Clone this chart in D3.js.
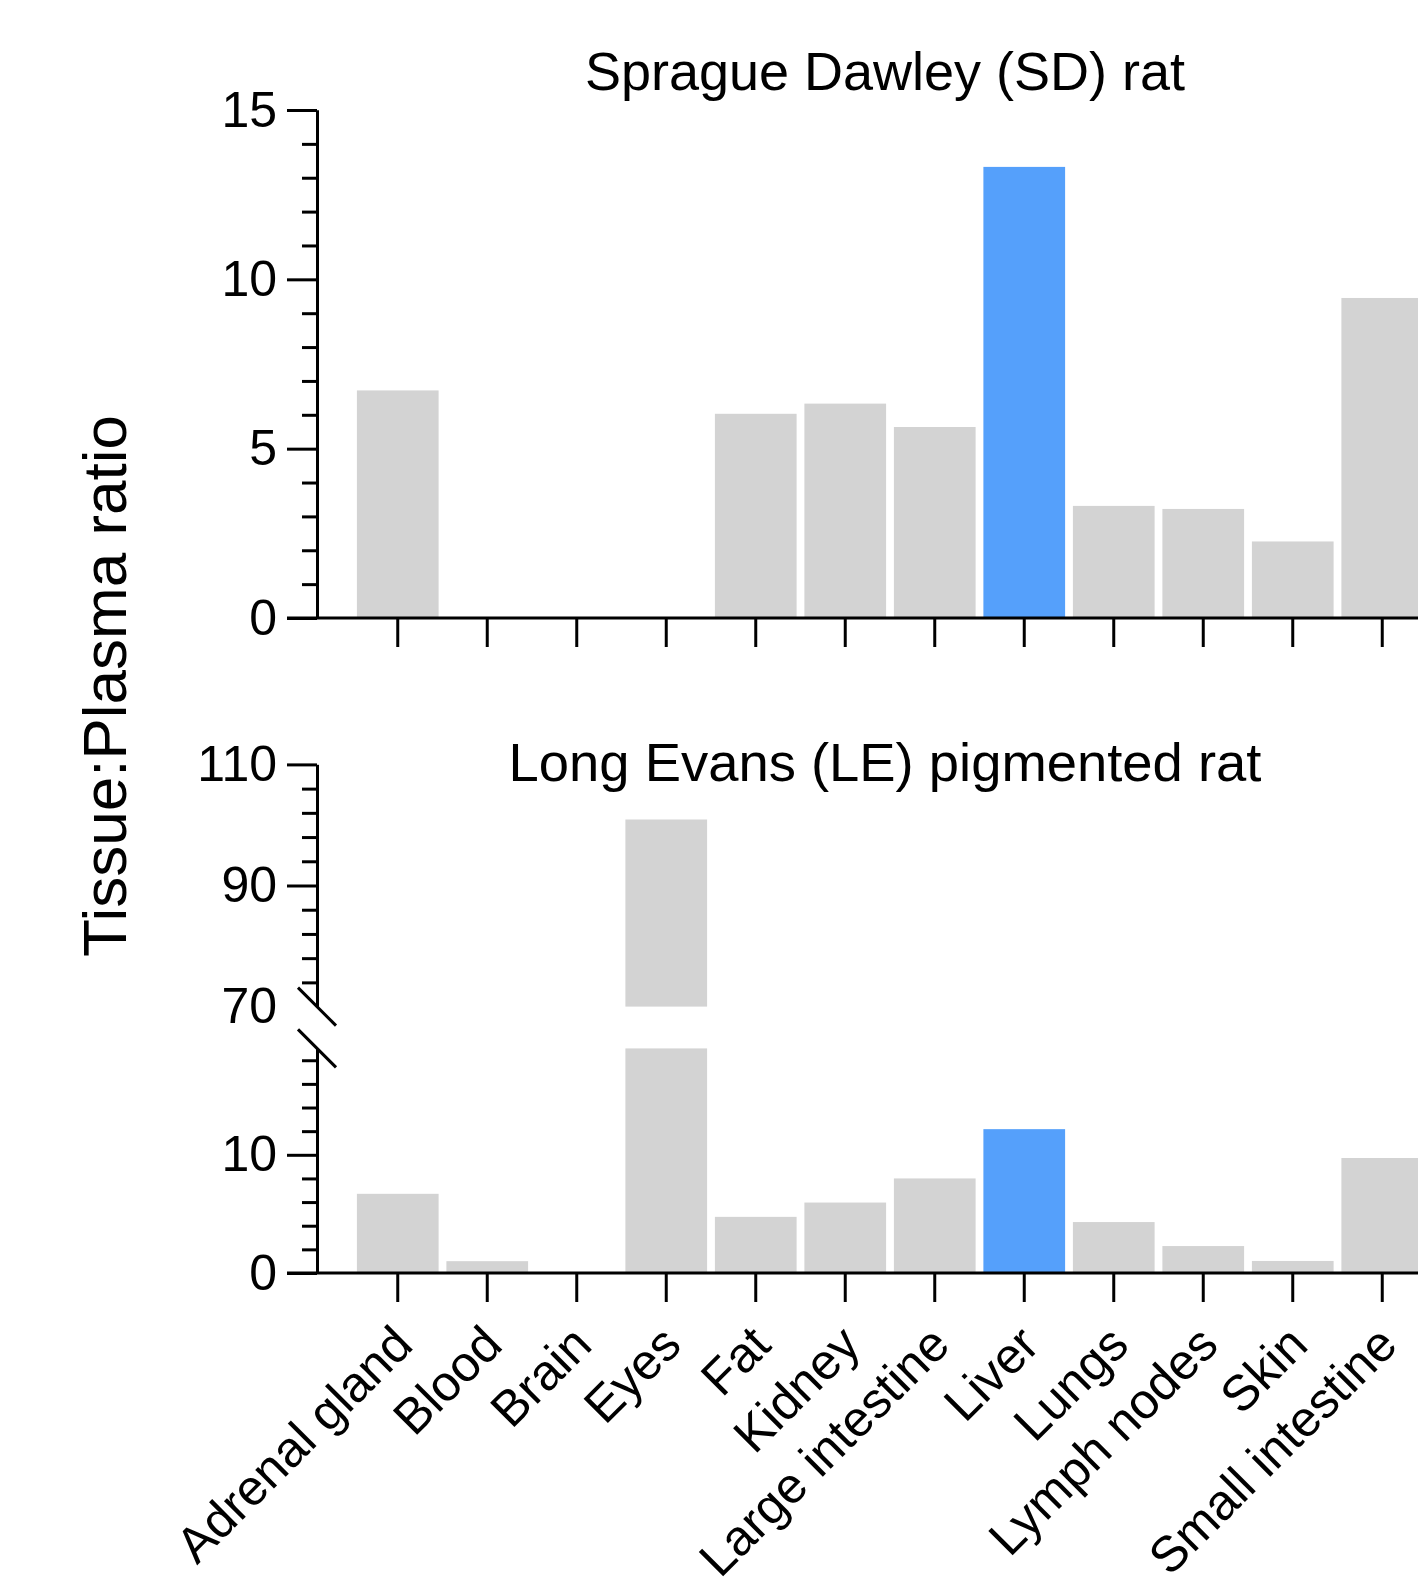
<!DOCTYPE html>
<html>
<head>
<meta charset="utf-8">
<script src="https://cdn.jsdelivr.net/npm/d3@7"></script>
<style>
  body { margin: 0; background: #fff; }
  text { font-family: "Liberation Sans", Arial, sans-serif; fill: #000; }
</style>
</head>
<body>
<div class="visholder"></div>
<script>
// data
const categories = ["Adrenal gland", "Blood", "Brain", "Eyes", "Fat", "Kidney",
  "Large intestine", "Liver", "Lungs", "Lymph nodes", "Skin", "Small intestine"];
const sdValues = [6.72, 0, 0, 0, 6.03, 6.33, 5.64, 13.32, 3.31, 3.22, 2.26, 9.45];
const leValues = [6.7, 1.0, 0, 100.9, 4.75, 5.96, 8.0, 12.17, 4.31, 2.28, 1.02, 9.73];
const highlight = "Liver";
const sdTicks = [0, 5, 10, 15];
const leLowTicks = [0, 10];
const leHighTicks = [70, 90, 110];
const sdTitle = "Sprague Dawley (SD) rat";
const leTitle = "Long Evans (LE) pigmented rat";
const yTitle = "Tissue:Plasma ratio";

// layout
const width = 1418, height = 1594,
  axisX = 317,
  bandStart = 353, step = 89.5,
  lineW = 3,
  grey = "#d3d3d3", blue = "#55a0fb";

let svg = d3.select(".visholder").append("svg")
  .attr("width", width).attr("height", height);

let x = d3.scaleBand().domain(categories)
  .range([bandStart, bandStart + step * categories.length])
  .paddingInner(0.087).paddingOuter(0.0435);

const colour = d => d === highlight ? blue : grey;

// y axis helper: major + minor ticks
function yAxis(scale, major, minorStep) {
  let g = svg.append("g").attr("transform", `translate(${axisX},0)`);
  let lo = scale.domain()[0], hi = scale.domain()[1];
  let minor = d3.range(lo, hi + 0.001, minorStep).filter(v => major.indexOf(v) < 0);
  g.append("g").call(d3.axisLeft(scale).tickValues(minor).tickSize(15).tickSizeOuter(0).tickFormat(""));
  g.append("g").attr("class", "major")
    .call(d3.axisLeft(scale).tickValues(major).tickSize(30).tickSizeOuter(0).tickPadding(10));
  g.selectAll("path, line").attr("stroke", "#000").attr("stroke-width", lineW);
  g.selectAll("text").style("font-size", "50px").attr("fill", "#000");
  return g;
}

// x axis helper: baseline + ticks
function xAxis(yBase, withLabels) {
  svg.append("line")
    .attr("x1", axisX - 30).attr("x2", x.range()[1])
    .attr("y1", yBase).attr("y2", yBase)
    .attr("stroke", "#000").attr("stroke-width", lineW);
  let g = svg.append("g").attr("transform", `translate(0,${yBase})`)
    .call(d3.axisBottom(x).tickSize(29).tickSizeOuter(0));
  g.select(".domain").remove();
  g.selectAll("line").attr("stroke", "#000").attr("stroke-width", lineW);
  if (withLabels) {
    g.selectAll("text")
      .style("font-size", "50px")
      .attr("fill", "#000")
      .attr("text-anchor", "end")
      .attr("dy", "0.35em")
      .attr("y", 0)
      .attr("transform", "translate(5,62) rotate(-45)");
  } else {
    g.selectAll("text").remove();
  }
}

// top panel
let yTop = d3.scaleLinear().domain([0, 15]).range([618, 110]);
svg.append("g").selectAll("rect").data(categories).enter().append("rect")
  .attr("x", d => x(d))
  .attr("width", x.bandwidth())
  .attr("y", (d, i) => yTop(sdValues[i]))
  .attr("height", (d, i) => yTop(0) - yTop(sdValues[i]))
  .attr("fill", colour);
yAxis(yTop, sdTicks, 1);
xAxis(yTop(0), false);
svg.append("text").text(sdTitle)
  .attr("x", 885).attr("y", 90)
  .attr("text-anchor", "middle")
  .style("font-size", "54px");

// bottom panel, broken axis
const lowMax = 19;
let yLow = d3.scaleLinear().domain([0, lowMax]).range([1273, 1273 - lowMax * 11.82]);
let yHigh = d3.scaleLinear().domain([70, 110]).range([1006.6, 764.4]);

svg.append("g").selectAll("rect").data(categories).enter().append("rect")
  .attr("x", d => x(d))
  .attr("width", x.bandwidth())
  .attr("y", (d, i) => yLow(Math.min(leValues[i], lowMax)))
  .attr("height", (d, i) => yLow(0) - yLow(Math.min(leValues[i], lowMax)))
  .attr("fill", colour);
svg.append("g").selectAll("rect").data(categories.filter((d, i) => leValues[i] > 70)).enter().append("rect")
  .attr("x", d => x(d))
  .attr("width", x.bandwidth())
  .attr("y", d => yHigh(leValues[categories.indexOf(d)]))
  .attr("height", d => yHigh(70) - yHigh(leValues[categories.indexOf(d)]))
  .attr("fill", colour);

yAxis(yLow, leLowTicks, 2);
let hi = yAxis(yHigh, leHighTicks, 4);
// no tick line at the break
hi.selectAll(".major .tick").filter(d => d === 70).select("line").remove();
xAxis(yLow(0), true);

// break marks
[yHigh(70), yLow(lowMax)].forEach(yb => {
  svg.append("line")
    .attr("x1", axisX - 19).attr("y1", yb - 19)
    .attr("x2", axisX + 19).attr("y2", yb + 19)
    .attr("stroke", "#000").attr("stroke-width", lineW);
});

svg.append("text").text(leTitle)
  .attr("x", 885).attr("y", 781)
  .attr("text-anchor", "middle")
  .style("font-size", "54.4px");

// y title
svg.append("text").text(yTitle)
  .attr("transform", "translate(126,686) rotate(-90)")
  .attr("text-anchor", "middle")
  .style("font-size", "62px");
</script>
</body>
</html>
